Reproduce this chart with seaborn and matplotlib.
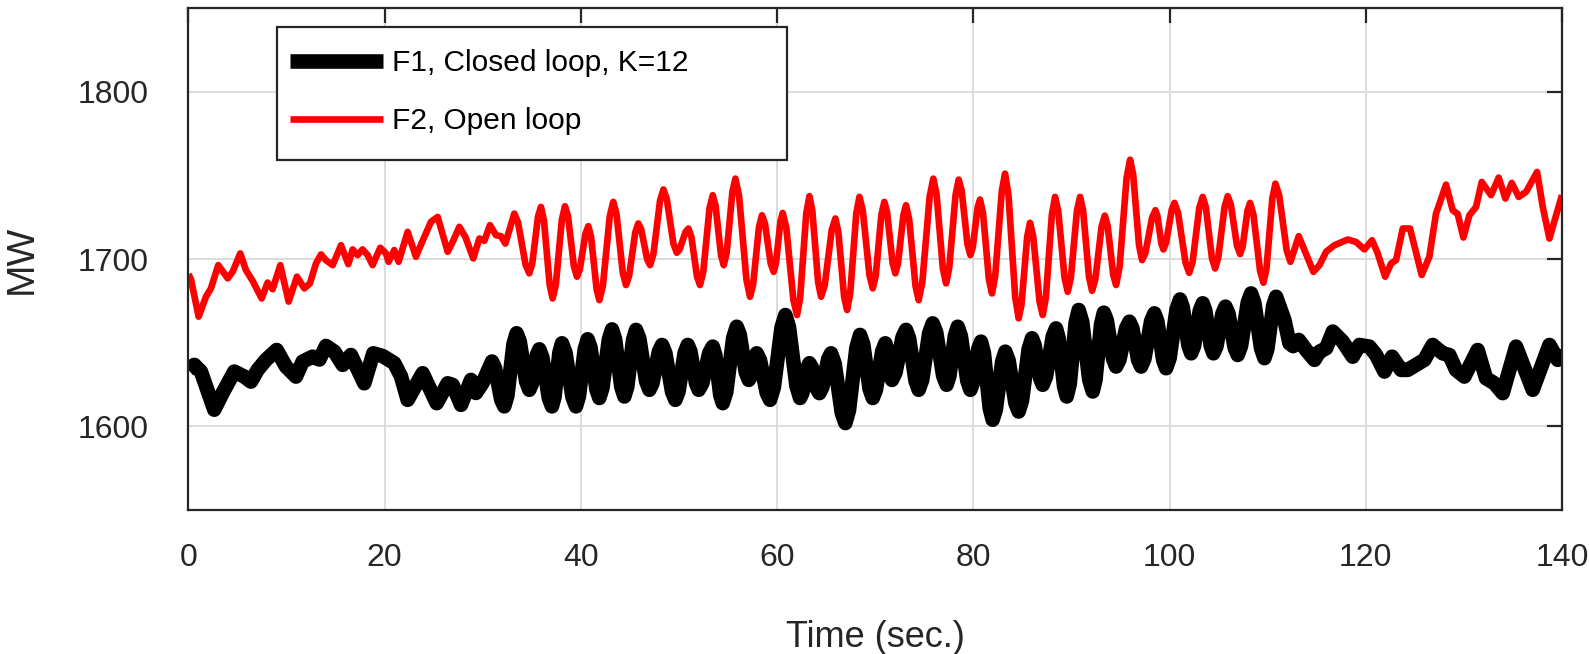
import matplotlib
matplotlib.use("Agg")
import matplotlib.pyplot as plt
from matplotlib.patches import Rectangle
from matplotlib.lines import Line2D
import pandas as pd
import seaborn as sns

# F2, open loop (red): (time s, MW)
red_pts = [
    (0.0, 1691), (0.25, 1688), (1.04, 1665.6), (1.78, 1677.5), (2.29, 1682.5), (3.04, 1696.4),
    (4.0, 1688.5), (4.5, 1692.4), (5.28, 1703.4), (5.86, 1693.4), (6.54, 1687), (7.46, 1676.5),
    (8.07, 1686), (8.58, 1682), (9.36, 1696.4), (10.21, 1674.6), (11.06, 1689.5), (11.81, 1682.5),
    (12.38, 1685.5), (13.0, 1697.4), (13.51, 1702.8), (14.0, 1699.4), (14.7, 1696.4), (15.55, 1708.3),
    (16.29, 1697), (16.74, 1705.8), (17.24, 1702.4), (17.75, 1705.8), (18.26, 1702.4), (18.77, 1696.4),
    (19.55, 1706.8), (20.13, 1703.4), (20.4, 1698.4), (20.98, 1705.4), (21.42, 1698.4), (22.34, 1716.3),
    (23.19, 1701.4), (23.53, 1706.4), (24.72, 1722.3), (25.4, 1725.2), (26.42, 1704.4), (26.93, 1710.3),
    (27.61, 1719.3), (28.22, 1713.3), (29.03, 1700.4), (29.65, 1712.3), (30.16, 1711), (30.73, 1720.3),
    (31.35, 1714.3), (31.85, 1713.7), (32.3, 1709.3), (33.21, 1727.2),
    (33.59, 1722.0), (34.36, 1696.7), (34.74, 1691.5), (35.04, 1697.3), (35.63, 1725.4), (35.93, 1731.2),
    (36.23, 1723.2), (36.82, 1684.5), (37.12, 1676.5), (37.44, 1684.5), (38.06, 1723.6), (38.38, 1731.6),
    (38.69, 1725.5), (39.29, 1695.6), (39.6, 1689.5), (39.89, 1693.9), (40.47, 1715.3), (40.76, 1719.7),
    (41.04, 1713.2), (41.6, 1682.0), (41.88, 1675.5), (42.24, 1684.1), (42.94, 1725.6), (43.3, 1734.2),
    (43.63, 1726.9), (44.27, 1691.8), (44.6, 1684.5), (44.91, 1689.9), (45.54, 1715.9), (45.85, 1721.3),
    (46.15, 1717.7), (46.75, 1700.0), (47.05, 1696.4), (47.39, 1703.0), (48.07, 1735.0), (48.41, 1741.6),
    (48.75, 1736.1), (49.43, 1709.3), (49.77, 1703.8), (50.07, 1705.9), (50.66, 1716.2), (50.96, 1718.3),
    (51.26, 1713.4), (51.84, 1689.4), (52.14, 1684.5), (52.47, 1692.3), (53.11, 1730.4), (53.44, 1738.2),
    (53.72, 1732.1), (54.28, 1702.5), (54.56, 1696.4), (54.86, 1703.9), (55.45, 1740.6), (55.75, 1748.1),
    (56.12, 1737.8), (56.87, 1687.8), (57.24, 1677.5), (57.55, 1684.6), (58.15, 1719.1), (58.46, 1726.2),
    (58.76, 1721.3), (59.35, 1697.3), (59.65, 1692.4), (59.88, 1697.5), (60.34, 1722.5), (60.57, 1727.6),
    (60.94, 1718.7), (61.66, 1675.5), (62.03, 1666.6), (62.35, 1677.0), (62.97, 1727.2), (63.29, 1737.6),
    (63.59, 1728.8), (64.18, 1686.3), (64.48, 1677.5), (64.85, 1684.3), (65.57, 1717.5), (65.94, 1724.3),
    (66.24, 1716.3), (66.83, 1677.6), (67.13, 1669.6), (67.45, 1679.5), (68.07, 1727.3), (68.39, 1737.2),
    (68.73, 1729.2), (69.41, 1690.5), (69.75, 1682.5), (70.05, 1690.0), (70.63, 1726.7), (70.93, 1734.2),
    (71.21, 1728.0), (71.77, 1697.7), (72.05, 1691.5), (72.32, 1697.4), (72.87, 1726.3), (73.14, 1732.2),
    (73.46, 1723.9), (74.11, 1683.8), (74.43, 1675.5), (74.8, 1686.1), (75.55, 1737.5), (75.92, 1748.1),
    (76.25, 1739.0), (76.89, 1694.6), (77.22, 1685.5), (77.54, 1694.6), (78.19, 1738.4), (78.51, 1747.5),
    (78.81, 1740.9), (79.4, 1709.0), (79.7, 1702.4), (79.95, 1707.2), (80.43, 1730.8), (80.68, 1735.6),
    (80.99, 1727.4), (81.59, 1687.7), (81.9, 1679.5), (82.23, 1690.0), (82.9, 1740.6), (83.23, 1751.1),
    (83.58, 1738.5), (84.27, 1677.2), (84.62, 1664.6), (84.91, 1672.9), (85.49, 1713.4), (85.78, 1721.7),
    (86.1, 1713.7), (86.75, 1674.6), (87.07, 1666.6), (87.39, 1676.9), (88.01, 1726.9), (88.33, 1737.2),
    (88.65, 1728.9), (89.3, 1688.8), (89.62, 1680.5), (89.94, 1688.8), (90.56, 1728.9), (90.88, 1737.2),
    (91.19, 1729.0), (91.79, 1689.3), (92.1, 1681.1), (92.43, 1687.7), (93.07, 1719.4), (93.4, 1726),
    (93.69, 1719.9), (94.26, 1690.6), (94.55, 1684.5), (94.91, 1695.4), (95.62, 1748.5), (95.98, 1759.4),
    (96.29, 1750.6), (96.89, 1708.2), (97.2, 1699.4), (97.54, 1703.8), (98.22, 1724.8), (98.56, 1729.2),
    (98.76, 1725.8), (99.17, 1709.2), (99.37, 1705.8), (99.65, 1709.9), (100.22, 1729.5), (100.5, 1733.6),
    (100.87, 1727.5), (101.63, 1697.9), (102.0, 1691.8), (102.35, 1698.4), (103.03, 1730.6), (103.38, 1737.2),
    (103.7, 1731.0), (104.32, 1700.6), (104.64, 1694.4), (104.96, 1700.7), (105.61, 1731.3), (105.93, 1737.6),
    (106.25, 1732.5), (106.87, 1708.1), (107.19, 1703), (107.45, 1707.5), (107.95, 1729.1), (108.21, 1733.6),
    (108.55, 1726.6), (109.23, 1692.9), (109.57, 1685.9), (109.88, 1694.5), (110.48, 1736.5), (110.79, 1745.1),
    (111.17, 1738.3), (111.94, 1705.2), (112.32, 1698.4),
    (113.17, 1713.7), (114.66, 1692.4), (115.28, 1696.4), (115.96, 1704.4), (116.8, 1708.3), (118.16, 1711.7),
    (119.0, 1710.3), (119.86, 1705.8), (120.64, 1711.3), (121.22, 1703.4), (121.97, 1689.5), (122.58, 1697.4),
    (123.09, 1699.4), (123.77, 1718.3), (124.51, 1718.3), (125.7, 1690.5), (126.48, 1701.4), (127.16, 1727.2),
    (128.18, 1744.5), (128.86, 1729.2), (129.37, 1727), (129.95, 1712.9), (130.56, 1726.2), (131.24, 1731.2),
    (131.82, 1746.1), (132.77, 1738.2), (133.55, 1748.7), (134.23, 1736.2), (134.88, 1745.5), (135.59, 1737.2),
    (136.34, 1740.2), (137.46, 1752.1), (138.04, 1731.2), (138.72, 1712.3), (139.4, 1726.2), (140.0, 1738.2),
]

# F1, closed loop K=12 (black)
blk_pts = [
    (0.0, 1633.8), (0.6, 1636.8), (1.27, 1632.8), (2.63, 1610), (3.48, 1620), (4.67, 1632.8),
    (5.69, 1629.8), (6.37, 1626.8), (7.05, 1633.8), (7.9, 1639.8), (8.99, 1645.7), (9.94, 1635.8),
    (10.96, 1629.8), (11.64, 1638.8), (12.66, 1641.7), (13.34, 1640), (14.02, 1648.1), (14.87, 1644.7),
    (15.72, 1636.8), (16.56, 1642.7), (17.92, 1625.8), (18.84, 1643.7), (19.79, 1642.1), (20.98, 1637.8),
    (21.66, 1630), (22.34, 1615.9), (23.87, 1631.8), (25.3, 1613.9), (26.42, 1625.8), (26.93, 1624.8),
    (27.78, 1612.9), (28.8, 1627.8), (29.3, 1620), (29.98, 1626), (30.94, 1638.8),
    (31.25, 1634.9), (31.88, 1615.9), (32.19, 1612), (32.51, 1618.4), (33.13, 1649.3), (33.45, 1655.7),
    (33.77, 1650.8), (34.42, 1626.8), (34.74, 1621.9), (35.0, 1625.4), (35.5, 1642.6), (35.76, 1646.1),
    (36.08, 1641.1), (36.73, 1617.0), (37.05, 1612), (37.31, 1617.5), (37.81, 1644.2), (38.07, 1649.7),
    (38.43, 1644.2), (39.14, 1617.5), (39.5, 1612), (39.8, 1617.9), (40.39, 1646.2), (40.69, 1652.1),
    (40.99, 1647.0), (41.58, 1622.1), (41.88, 1617), (42.2, 1623.0), (42.85, 1652.0), (43.17, 1658),
    (43.49, 1652.1), (44.11, 1623.8), (44.43, 1617.9), (44.73, 1623.7), (45.32, 1651.9), (45.62, 1657.7),
    (45.96, 1652.5), (46.64, 1627.1), (46.98, 1621.9), (47.3, 1625.8), (47.95, 1644.8), (48.27, 1648.7),
    (48.61, 1643.9), (49.29, 1620.7), (49.63, 1615.9), (49.95, 1620.7), (50.57, 1643.9), (50.89, 1648.7),
    (51.17, 1644.8), (51.73, 1625.8), (52.01, 1621.9), (52.37, 1625.7), (53.08, 1643.9), (53.44, 1647.7),
    (53.7, 1642.8), (54.2, 1618.8), (54.46, 1613.9), (54.82, 1620.6), (55.52, 1652.9), (55.88, 1659.6),
    (56.19, 1655.0), (56.8, 1632.4), (57.11, 1627.8), (57.31, 1630.1), (57.72, 1641.4), (57.92, 1643.7),
    (58.26, 1639.6), (58.94, 1620.0), (59.28, 1615.9), (59.67, 1623.3), (60.45, 1659.2), (60.84, 1666.6),
    (61.21, 1659.4), (61.97, 1624.2), (62.34, 1617), (62.58, 1620.0), (63.05, 1634.8), (63.29, 1637.8),
    (63.55, 1635.2), (64.05, 1622.5), (64.31, 1619.9), (64.61, 1623.4), (65.2, 1640.2), (65.5, 1643.7),
    (65.87, 1637.6), (66.59, 1608.1), (66.96, 1602), (67.33, 1609.7), (68.08, 1647.0), (68.45, 1654.7),
    (68.78, 1649.2), (69.42, 1622.5), (69.75, 1617), (70.07, 1621.8), (70.71, 1644.9), (71.03, 1649.7),
    (71.2, 1646.5), (71.54, 1631.0), (71.71, 1627.8), (72.07, 1632.2), (72.78, 1653.3), (73.14, 1657.7),
    (73.46, 1652.5), (74.11, 1627.1), (74.43, 1621.9), (74.79, 1627.7), (75.5, 1655.8), (75.86, 1661.6),
    (76.22, 1656.2), (76.92, 1630.3), (77.28, 1624.9), (77.56, 1630.0), (78.13, 1654.5), (78.41, 1659.6),
    (78.73, 1654.1), (79.38, 1627.4), (79.7, 1621.9), (79.97, 1626.1), (80.51, 1646.5), (80.78, 1650.7),
    (81.08, 1643.9), (81.67, 1610.8), (81.97, 1604), (82.29, 1609.9), (82.94, 1638.8), (83.26, 1644.7),
    (83.6, 1639.5), (84.28, 1614.1), (84.62, 1608.9), (84.96, 1615.3), (85.64, 1646.3), (85.98, 1652.7),
    (86.25, 1648.6), (86.8, 1629.0), (87.07, 1624.9), (87.41, 1629.8), (88.09, 1653.7), (88.43, 1658.6),
    (88.7, 1652.7), (89.25, 1623.8), (89.52, 1617.9), (89.83, 1625.4), (90.43, 1662.1), (90.74, 1669.6),
    (91.1, 1662.5), (91.81, 1628.0), (92.17, 1620.9), (92.45, 1627.8), (93.02, 1661.1), (93.3, 1668),
    (93.61, 1663.3), (94.24, 1640.5), (94.55, 1635.8), (94.89, 1639.7), (95.57, 1658.7), (95.91, 1662.6),
    (96.21, 1658.7), (96.8, 1639.7), (97.1, 1635.8), (97.44, 1640.4), (98.12, 1663.0), (98.46, 1667.6),
    (98.76, 1662.8), (99.35, 1639.6), (99.65, 1634.8), (100.01, 1640.8), (100.71, 1669.9), (101.07, 1675.9),
    (101.35, 1671.2), (101.92, 1648.4), (102.2, 1643.7), (102.5, 1648.1), (103.08, 1669.2), (103.38, 1673.6),
    (103.65, 1669.2), (104.2, 1648.1), (104.47, 1643.7), (104.78, 1647.8), (105.39, 1667.5), (105.7, 1671.6),
    (106.01, 1667.4), (106.64, 1646.9), (106.95, 1642.7), (107.29, 1648.1), (107.97, 1674.1), (108.31, 1679.5),
    (108.65, 1673.8), (109.33, 1646.5), (109.67, 1640.8), (109.97, 1646.2), (110.56, 1672.1), (110.86, 1677.5),
    (111.71, 1663.6), (112.22, 1649.7), (112.6, 1648), (113.17, 1651.7), (113.92, 1645.7), (114.77, 1639.8),
    (115.28, 1644.7), (115.96, 1646.7), (116.64, 1656.7), (117.65, 1650.7), (118.67, 1641.7), (119.35, 1648.7),
    (120.37, 1647.7), (121.05, 1642.7), (121.9, 1632.8), (122.68, 1641.7), (123.6, 1633.8), (124.27, 1633.8),
    (125.12, 1636.8), (125.97, 1639.8), (126.82, 1648.7), (127.84, 1643.7), (128.52, 1642.7), (129.2, 1633.8),
    (130.05, 1629.8), (131.41, 1645.7), (132.26, 1628.8), (133.11, 1625.8), (133.96, 1619.9), (135.32, 1647.7),
    (137.02, 1621.9), (138.72, 1648.7), (139.57, 1639.8), (140.0, 1645.7),
]

labels = ["F1, Closed loop, K=12", "F2, Open loop"]
x_ticks = [0, 20, 40, 60, 80, 100, 120, 140]
y_ticks = [1600, 1700, 1800]

sns.set_style("white")
plt.rcParams['font.family'] = ['Liberation Sans', 'DejaVu Sans']
ink = '#262626'

fig = plt.figure(figsize=(15.89, 6.54), dpi=100)
ax = fig.add_axes([0.1186, 0.22, 0.8644, 0.7676])

red_df = pd.DataFrame(red_pts, columns=['t', 'mw'])
blk_df = pd.DataFrame(blk_pts, columns=['t', 'mw'])
sns.lineplot(data=blk_df, x='t', y='mw', ax=ax, color='black', linewidth=10.5,
             sort=False, estimator=None, solid_joinstyle='round', solid_capstyle='butt')
sns.lineplot(data=red_df, x='t', y='mw', ax=ax, color='#ff0000', linewidth=4.8,
             sort=False, estimator=None, solid_joinstyle='round', solid_capstyle='butt')

ax.set_xlim(0, 140)
ax.set_ylim(1550, 1850)
ax.set_xticks(x_ticks)
ax.set_yticks(y_ticks)
ax.grid(True, color='#d9d9d9', linewidth=1.3)
ax.set_axisbelow(True)

for s in ax.spines.values():
    s.set_visible(True)
    s.set_color(ink)
    s.set_linewidth(1.6)

ax.tick_params(direction='in', length=11, width=1.6, color=ink, labelcolor=ink,
               labelsize=23, top=True, right=True)
ax.tick_params(axis='y', pad=29)
ax.tick_params(axis='x', pad=24)

ax.set_xlabel('Time (sec.)', fontsize=26, color=ink)
ax.set_ylabel('MW', fontsize=28, color=ink)
ax.xaxis.set_label_coords(0.5, -0.218)
ax.yaxis.set_label_coords(-0.108, 0.5)

# legend box
ax.add_patch(Rectangle((0.0644, 0.6972), 0.3714, 0.265, transform=ax.transAxes,
                       facecolor='white', edgecolor=ink, linewidth=1.6, zorder=5))
handles = [Line2D([], [], color='black', linewidth=10.5, solid_capstyle='butt'),
           Line2D([], [], color='#ff0000', linewidth=4.8, solid_capstyle='butt')]
leg = ax.legend(handles, labels, loc='upper left', bbox_to_anchor=(0.0739, 0.918),
                frameon=False, fontsize=21.5, handlelength=3.1, handletextpad=0.33,
                labelspacing=1.0, borderpad=0, borderaxespad=0)
leg.set_zorder(6)
for txt in leg.get_texts():
    txt.set_color('black')

fig.savefig('out.png', dpi=100)
